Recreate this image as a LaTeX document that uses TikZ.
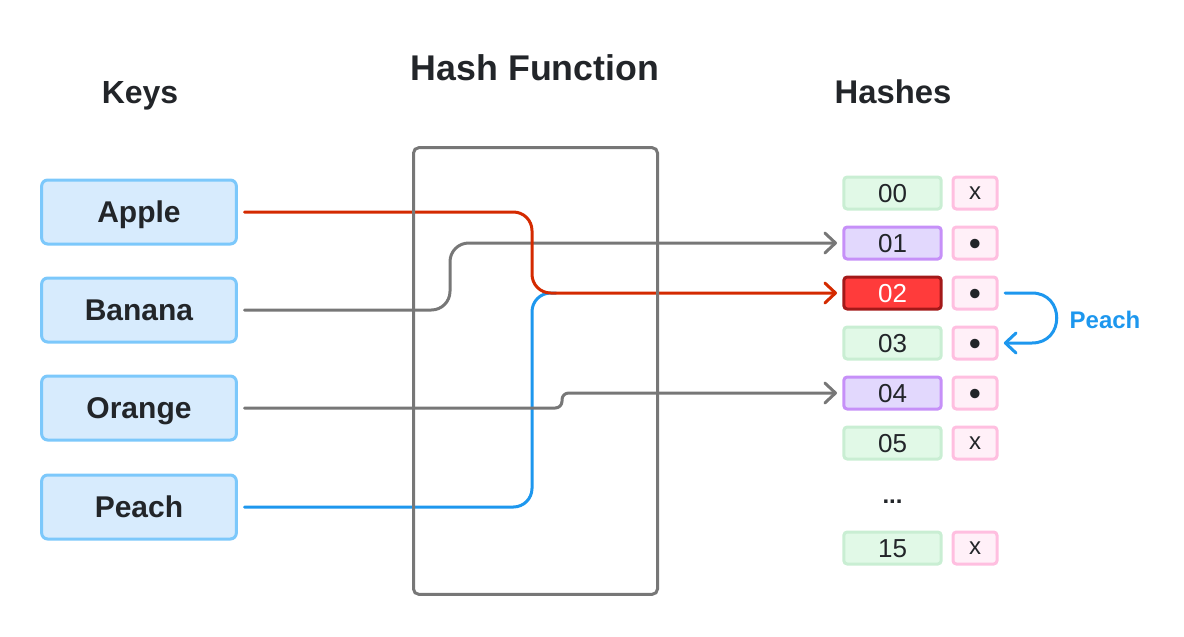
\documentclass[tikz,border=0pt]{standalone}
\usepackage{fontspec}
\setmainfont{Liberation Sans}
\usetikzlibrary{arrows.meta}
\definecolor{keyfill}{HTML}{D7EBFD}
\definecolor{keydraw}{HTML}{7CC8FB}
\definecolor{grfill}{HTML}{E1F9E7}
\definecolor{grdraw}{HTML}{C9EED3}
\definecolor{pufill}{HTML}{E2D8FD}
\definecolor{pudraw}{HTML}{C690F8}
\definecolor{rdfill}{HTML}{FF3B3B}
\definecolor{rddraw}{HTML}{A31919}
\definecolor{pkfill}{HTML}{FFF0F8}
\definecolor{pkdraw}{HTML}{FFBFE0}
\definecolor{redline}{HTML}{D42A00}
\definecolor{blueline}{HTML}{1D97EE}
\definecolor{grayline}{HTML}{777777}
\definecolor{txt}{HTML}{222529}
\begin{document}
\begin{tikzpicture}[x=0.75pt,y=-0.75pt,
  title/.style={font=\bfseries\fontsize{24}{28}\selectfont, text=txt, text height=17.5pt, text depth=0pt, inner sep=0pt},
  keybox/.style={draw=keydraw, fill=keyfill, line width=2.25pt, rounded corners=4.5pt,
    minimum width=146pt, minimum height=48pt, inner sep=0pt,
    text height=16pt, text depth=0pt,
    font=\bfseries\fontsize{22.5}{26}\selectfont, text=txt},
  slot/.style={line width=2.25pt, rounded corners=2.5pt, minimum width=73pt, minimum height=24pt,
    inner sep=0pt, text height=14pt, text depth=0pt, font=\fontsize{19.5}{22}\selectfont, text=txt},
  empty/.style={slot, draw=grdraw, fill=grfill},
  used/.style={slot, draw=pudraw, fill=pufill},
  hit/.style={slot, draw=rddraw, fill=rdfill, text=white},
  ptr/.style={slot, draw=pkdraw, fill=pkfill, minimum width=33pt},
  ptrx/.style={ptr, text height=9.3pt, font=\fontsize{18}{20}\selectfont},
  ptrd/.style={ptr, text height=18.5pt, font=\fontsize{26}{26}\selectfont},
  conn/.style={line width=2.25pt, line cap=round, line join=round, rounded corners=14pt},
  tip/.style={-{Straight Barb[length=8pt,width=15pt,line cap=round,line join=round]}, shorten >=4pt}
]
\useasboundingbox (0,0) rectangle (1184,636);

% titles
\node[title] (tkeys) at (140,92) {Keys};
\node[title, font=\bfseries\fontsize{26.8}{31}\selectfont, text height=19.2pt] (thash) at (535,68) {Hash Function};
\node[title, font=\bfseries\fontsize{24.6}{28}\selectfont] (thashes) at (893,92) {Hashes};

% keys
\node[keybox] (apple) at (139,212) {Apple};
\node[keybox] (banana) at (139,310) {Banana};
\node[keybox] (orange) at (139,408) {Orange};
\node[keybox] (peach) at (139,507) {Peach};

% slots
\node[empty] (s00) at (892.5,193) {00};
\node[used]  (s01) at (892.5,243) {01};
\node[hit]   (s02) at (892.5,293) {02};
\node[empty] (s03) at (892.5,343) {03};
\node[used]  (s04) at (892.5,393) {04};
\node[empty] (s05) at (892.5,443) {05};
\node[font=\bfseries\fontsize{18}{20}\selectfont, text=txt, inner sep=0pt, text height=3pt, text depth=0pt] (dots) at (892.5,501) {...};
\node[empty] (s15) at (892.5,548) {15};

\node[ptrx] (p00) at (975,193) {x};
\node[ptrd] (p01) at (975,243) {\textbullet};
\node[ptrd] (p02) at (975,293) {\textbullet};
\node[ptrd] (p03) at (975,343) {\textbullet};
\node[ptrd] (p04) at (975,393) {\textbullet};
\node[ptrx] (p05) at (975,443) {x};
\node[ptrx] (p15) at (975,548) {x};

% routing coordinates
\coordinate (xa) at (532,0);
\coordinate (xb) at (450,0);
\coordinate (xo) at (562,0);

% connectors
\draw[conn, blueline, shorten <=5pt] (peach.east) -- (peach.east -| xa) -- (xa |- s02) -- ++(24,0);
\draw[conn, grayline, tip, shorten <=5pt] (banana.east) -- (banana.east -| xb) -- (xb |- s01) -- (s01.west);
\draw[conn, grayline, tip, shorten <=5pt, rounded corners=5pt] (orange.east) -- (orange.east -| xo) -- (xo |- s04) -- (s04.west);
\draw[conn, redline, tip, shorten <=5pt] (apple.east) -- (apple.east -| xa) -- (xa |- s02) -- (s02.west);

% hash function box
\node[draw=grayline, line width=2.25pt, rounded corners=4pt, minimum width=183pt, minimum height=335pt, inner sep=0pt] (hbox) at (535.5,371) {};

% probing loop
\coordinate (la) at (1032,293);
\coordinate (lb) at (1032,343);
\draw[conn, blueline, tip, rounded corners=0pt, shorten <=5pt] (p02.east) -- (la) .. controls (1065,293) and (1065,343) .. (lb) -- (p03.east);
\node[font=\bfseries\fontsize{18}{21}\selectfont, text=blueline] (lpeach) at (1105,320) {Peach};
\end{tikzpicture}
\end{document}
